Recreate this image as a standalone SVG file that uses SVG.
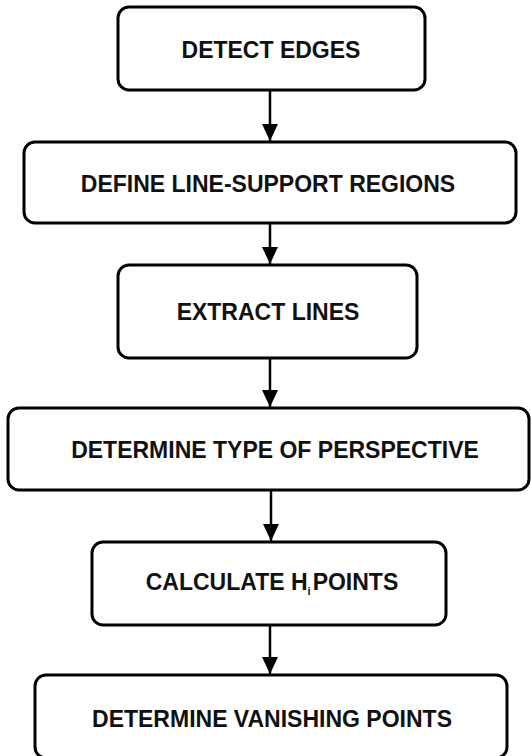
<svg xmlns="http://www.w3.org/2000/svg" width="531" height="756" viewBox="0 0 531 756">
<style>
.box{fill:#fff;stroke:#000;stroke-width:3}
.lbl{font-family:"Liberation Sans",Arial,sans-serif;font-weight:bold;font-size:23px;fill:#111;text-anchor:middle}
.conn{stroke:#000;stroke-width:2.5;fill:none}
</style>
<defs>
<marker id="ah" markerUnits="userSpaceOnUse" markerWidth="18" markerHeight="18" viewBox="0 0 18 18" refX="17" refY="9" orient="auto">
<path d="M0,1 L17,9 L0,17 Z" fill="#000"/>
</marker>
</defs>
<rect width="531" height="756" fill="#fff"/>
<g id="connectors">
<line class="conn" x1="270" y1="90" x2="270" y2="141" marker-end="url(#ah)"/>
<line class="conn" x1="270" y1="223" x2="270" y2="264" marker-end="url(#ah)"/>
<line class="conn" x1="270" y1="358" x2="270" y2="407" marker-end="url(#ah)"/>
<line class="conn" x1="271" y1="490" x2="271" y2="541" marker-end="url(#ah)"/>
<line class="conn" x1="270" y1="625" x2="270" y2="674" marker-end="url(#ah)"/>
</g>
<g id="node1">
<rect class="box" x="118" y="7" width="307" height="83" rx="11"/>
<text class="lbl" x="271" y="58">DETECT EDGES</text>
</g>
<g id="node2">
<rect class="box" x="24" y="142" width="492" height="81" rx="11"/>
<text class="lbl" x="268" y="192">DEFINE LINE-SUPPORT REGIONS</text>
</g>
<g id="node3">
<rect class="box" x="118" y="265" width="299" height="93" rx="11"/>
<text class="lbl" x="268" y="320">EXTRACT LINES</text>
</g>
<g id="node4">
<rect class="box" x="8" y="408" width="521" height="82" rx="11"/>
<text class="lbl" x="275" y="458">DETERMINE TYPE OF PERSPECTIVE</text>
</g>
<g id="node5">
<rect class="box" x="92" y="542" width="354" height="83" rx="11"/>
<text class="lbl" x="272" y="590">CALCULATE H<tspan font-size="11" dy="5">i</tspan><tspan dy="-5" dx="2">POINTS</tspan></text>
</g>
<g id="node6">
<rect class="box" x="35" y="675" width="472" height="83" rx="11"/>
<text class="lbl" x="272" y="727">DETERMINE VANISHING POINTS</text>
</g>
</svg>
